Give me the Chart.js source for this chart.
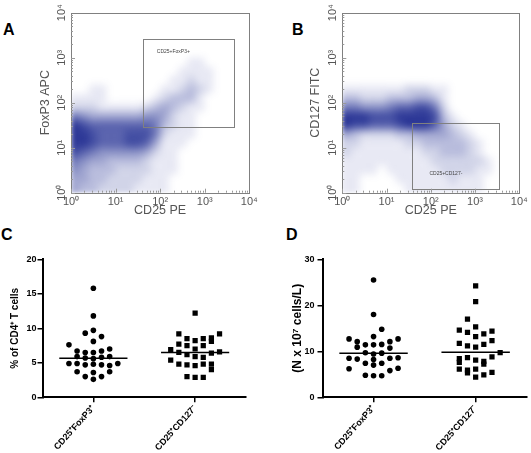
<!DOCTYPE html>
<html>
<head>
<meta charset="utf-8">
<script src="https://cdn.jsdelivr.net/npm/chart.js@4.4.1/dist/chart.umd.min.js"></script>
<style>
  body { margin:0; background:#fff; width:531px; height:453px; position:relative; overflow:hidden; font-family:"Liberation Sans", Arial, sans-serif; }
  canvas { position:absolute; }
  .tag { position:absolute; font-weight:bold; font-size:16px; line-height:1; color:#000; }
</style>
</head>
<body>
<div class="tag" style="left:3px;top:22px;">A</div>
<div class="tag" style="left:292px;top:22px;">B</div>
<div class="tag" style="left:1px;top:227px;">C</div>
<div class="tag" style="left:286px;top:227px;">D</div>
<canvas id="cA" width="265" height="220" style="left:0;top:0;"></canvas>
<canvas id="cB" width="266" height="220" style="left:265px;top:0;"></canvas>
<canvas id="cC" width="265" height="233" style="left:0;top:220px;"></canvas>
<canvas id="cD" width="266" height="233" style="left:265px;top:220px;"></canvas>
<script>
// ============================================================
//  DATA
// ============================================================
// flow plots (A, B): log axes, one labelled tick per decade
var decades = [1, 10, 100, 1000, 10000];
var supDigits = ['\u2070', '\u00B9', '\u00B2', '\u00B3', '\u2074'];

// event density read per 0.2-decade cell (0 = empty .. 9 = darkest)
// first row = top (10^3.8-10^4), first column = left (10^0-10^0.2)
var densityA = [
  '00000000000000000000',
  '00000000000000000000',
  '00000000000000000000',
  '00000000000000000000',
  '00000000000000000000',
  '00000000000001100000',
  '00000000000011110000',
  '00000000000112110000',
  '00110000001123210000',
  '11110000012333100000',
  '22211111234321100000',
  '65444444554211000000',
  '98777777763211000000',
  '99877788862111000000',
  '99877788741110000000',
  '87655555421100000000',
  '65443333211100000000',
  '54333222211100000000',
  '44332222111000000000',
  '43322221111000000000'
];
var densityB = [
  '00000000000000000000',
  '00000000000000000000',
  '00000000000000000000',
  '00000000000000000000',
  '00000000000000000000',
  '00000000000000000000',
  '00000000000000000000',
  '00000000000000000000',
  '11111112221100000000',
  '33222333443100000000',
  '66555677886200000000',
  '99988899998310000000',
  '98877789997421000000',
  '43222233444432100000',
  '22111112233333210000',
  '21111111122333210000',
  '11111111112222221000',
  '11110111111222211000',
  '11000011111121110000',
  '11000001111111110000'
];
var gateAX = [42, 4600], gateAY = [29.5, 2650];
var gateBX = [38, 3500], gateBY = [1.2, 35];
var gateALabel = 'CD25+FoxP3+', gateBLabel = 'CD25+CD127-';
var gateALabelAt = [84, 1350], gateBLabelAt = [93, 2.6];

// dot plots (C, D)
var groups = ['CD25\u207AFoxP3\u207A', 'CD25\u207ACD127\u207B'];
// % of CD4+ T cells; *Col = side-by-side column of each dot in the swarm
var pctFoxp3 = [15.8, 11.8, 9.7, 9.3, 8.8, 8.1, 7.6, 6.7, 6.5, 6.5, 6.7, 7.0,
  5.9, 5.7, 5.6, 5.8, 5.9, 4.9, 4.9, 4.7, 4.8, 4.7, 4.6, 4.9, 3.7, 3.6, 3.7, 3.0, 3.0, 2.6];
var pctFoxp3Col = [0, 0, 0, -1, 1, 0, -3, -2, -1, 0, 1, 2,
  -2, -1, 0, 1, 2, -3, -2, -1, 0, 1, 2, 3, -2, 0, 2, -1, 1, 0];
var pctCd127 = [12.2, 9.2, 9.2, 8.5, 8.2, 8.5, 8.6, 8.1, 7.7, 7.5, 7.5, 7.0,
  6.9, 6.5, 6.2, 6.4, 6.6, 5.4, 5.9, 5.8, 4.8, 4.7, 4.6, 4.8, 4.8, 4.0, 3.0, 2.9, 2.9];
var pctCd127Col = [0, -2, 3, -1, 0, 1, 2, 2, -2, -1, 1, 0,
  -3, -2, -1, 2, 3, -3, 0, 1, -2, -1, 0, 1, 2, 2, -1, 0, 1];
var pctMedian = [5.65, 6.5];
var pctTicks = [0, 5, 10, 15, 20];
// N x 10^7 cells/L
var cntFoxp3 = [25.5, 18.0, 14.8, 13.2, 12.7, 12.7, 12.1, 12.1, 11.4, 11.4, 11.5, 10.9, 10.7,
  9.7, 9.4, 9.6, 8.5, 8.3, 8.2, 8.5, 8.6, 7.4, 7.0, 7.4, 6.2, 6.3, 5.8, 4.8, 4.7, 4.7];
var cntFoxp3Col = [0, 0, 1, 0, -3, 3, -2, 2, -1, 0, 1, -2, 2,
  -1, 0, 1, -3, -2, 0, 2, 3, -1, 0, 1, -3, 3, 2, -1, 0, 1];
var cntCd127 = [24.2, 20.8, 17.0, 15.3, 14.6, 14.4, 14.1, 13.8, 13.2, 12.3, 11.7, 11.2, 11.5, 10.9,
  9.7, 8.8, 8.6, 8.4, 8.1, 7.6, 7.8, 7.2, 6.1, 6.1, 5.9, 5.3, 5.4, 4.9, 4.4];
var cntCd127Col = [0, 0, -1, 0, -2, 2, -1, 1, 0, 2, -2, -1, 1, 0,
  3, 2, -1, -2, 0, -2, 1, 1, -2, 0, -1, -1, 2, 1, 0];
var cntMedian = [9.6, 9.8];
var cntTicks = [0, 10, 20, 30];

// ============================================================
//  STYLE
// ============================================================
var FONT = '"Liberation Sans", Arial, sans-serif';
var SLOT = 0.08;       // horizontal step between side-by-side dots
var HALF_LINE = 0.335; // half length of the median bar
Chart.defaults.font.family = FONT;

// density cloud, gate rectangle, frame with small inner log ticks
var flowPlugin = {
  id: 'flow',
  beforeDatasetsDraw: function(chart, args, o) {
    var ctx = chart.ctx, ca = chart.chartArea, x = chart.scales.x, y = chart.scales.y;
    var rows = o.density.length, cols = o.density[0].length;
    var off = document.createElement('canvas');
    off.width = cols; off.height = rows;
    var octx = off.getContext('2d');
    var img = octx.createImageData(cols, rows);
    o.density.forEach(function(row, i) {
      for (var j = 0; j < cols; j++) {
        var k = (i * cols + j) * 4;
        img.data[k] = 38; img.data[k + 1] = 50; img.data[k + 2] = 148;
        img.data[k + 3] = Math.round(+row[j] / 9 * 245);
      }
    });
    octx.putImageData(img, 0, 0);
    var x0 = x.getPixelForValue(decades[0]), x1 = x.getPixelForValue(decades[decades.length - 1]);
    var y0 = y.getPixelForValue(decades[decades.length - 1]), y1 = y.getPixelForValue(decades[0]);
    ctx.save();
    ctx.beginPath(); ctx.rect(ca.left, ca.top, ca.width, ca.height); ctx.clip();
    ctx.imageSmoothingEnabled = true; ctx.imageSmoothingQuality = 'high';
    ctx.filter = 'blur(2.5px)';
    ctx.drawImage(off, x0, y0, x1 - x0, y1 - y0);
    ctx.restore();
  },
  afterDatasetsDraw: function(chart, args, o) {
    var ctx = chart.ctx, ca = chart.chartArea, x = chart.scales.x, y = chart.scales.y;
    ctx.save();
    ctx.strokeStyle = '#808080'; ctx.lineWidth = 1;
    var gx0 = x.getPixelForValue(o.gateX[0]), gx1 = x.getPixelForValue(o.gateX[1]);
    var gy0 = y.getPixelForValue(o.gateY[1]), gy1 = y.getPixelForValue(o.gateY[0]);
    ctx.strokeRect(Math.round(gx0) + 0.5, Math.round(gy0) + 0.5, Math.round(gx1 - gx0), Math.round(gy1 - gy0));
    ctx.strokeRect(Math.round(ca.left) + 0.5, Math.round(ca.top) + 0.5, Math.round(ca.width), Math.round(ca.height));
    // minor log ticks on the inside of the left and bottom edges
    ctx.strokeStyle = '#999';
    ctx.beginPath();
    for (var d = 0; d < decades.length - 1; d++) {
      for (var m = 1; m < 10; m++) {
        var v = decades[d] * m;
        var px = Math.round(x.getPixelForValue(v)) + 0.5, py = Math.round(y.getPixelForValue(v)) + 0.5;
        var len = m === 1 ? 4 : 2;
        ctx.moveTo(px, ca.bottom); ctx.lineTo(px, ca.bottom - len);
        ctx.moveTo(ca.left, py); ctx.lineTo(ca.left + len, py);
      }
    }
    ctx.stroke();
    ctx.fillStyle = '#444'; ctx.font = '5px ' + FONT; ctx.textBaseline = 'middle';
    ctx.fillText(o.label, x.getPixelForValue(o.labelAt[0]), y.getPixelForValue(o.labelAt[1]));
    ctx.restore();
  }
};

function decadeTicks(s) { s.ticks = decades.map(function(v) { return { value: v }; }); }
function decadeLabel(v) { return '10' + supDigits[Math.round(Math.log10(v))]; }

function flowChart(id, c) {
  var tickFont = { family: FONT, size: 11 };
  var titleFont = { family: FONT, size: 12.5 };
  return new Chart(document.getElementById(id), {
    type: 'scatter',
    data: { datasets: [] },
    plugins: [flowPlugin],
    options: {
      responsive: false, animation: false, devicePixelRatio: 1,
      layout: { padding: c.pad },
      plugins: { legend: { display: false }, tooltip: { enabled: false },
        flow: { density: c.density, gateX: c.gateX, gateY: c.gateY, label: c.label, labelAt: c.labelAt } },
      scales: {
        x: { type: 'logarithmic', min: 1, max: 10000, afterBuildTicks: decadeTicks,
          afterFit: function(s) { s.height = c.xh; },
          grid: { display: false, drawTicks: false }, border: { display: false },
          ticks: { callback: decadeLabel, color: '#555', font: tickFont, padding: 3, maxRotation: 0, autoSkip: false },
          title: { display: true, text: 'CD25 PE', color: '#555', font: titleFont, padding: 0 } },
        y: { type: 'logarithmic', min: 1, max: 10000, afterBuildTicks: decadeTicks,
          afterFit: function(s) { s.width = c.yw; },
          grid: { display: false, drawTicks: false }, border: { display: false },
          ticks: { callback: decadeLabel, color: '#555', font: tickFont, padding: 1, crossAlign: 'center',
            minRotation: 90, maxRotation: 90, autoSkip: false },
          title: { display: true, text: c.yTitle, color: '#555', font: titleFont, padding: 0 } }
      }
    }
  });
}

function dotChart(id, c) {
  var datasets = [];
  c.sets.forEach(function(g, gi) {
    datasets.push({
      data: g.vals.map(function(v, k) { return { x: gi + 1 + g.col[k] * SLOT, y: v }; }),
      pointStyle: g.style, pointRadius: g.style === 'rect' ? 3.7 : 2.8,
      backgroundColor: '#000', borderWidth: 0
    });
    datasets.push({
      data: [{ x: gi + 1 - HALF_LINE, y: c.median[gi] }, { x: gi + 1 + HALF_LINE, y: c.median[gi] }],
      showLine: true, borderColor: '#000', borderWidth: 1.5, pointRadius: 0
    });
  });
  var axisGrid = { display: true, drawOnChartArea: false, drawTicks: true, tickLength: 5, color: '#000', lineWidth: 1.5 };
  return new Chart(document.getElementById(id), {
    type: 'scatter',
    data: { datasets: datasets },
    options: {
      responsive: false, animation: false, devicePixelRatio: 1,
      layout: { padding: c.pad },
      plugins: { legend: { display: false }, tooltip: { enabled: false } },
      scales: {
        x: { type: 'linear', min: 0.5, max: 2.5,
          afterBuildTicks: function(s) { s.ticks = groups.map(function(g, i) { return { value: i + 1 }; }); },
          afterFit: function(s) { s.height = c.xh; },
          grid: axisGrid, border: { display: true, color: '#000', width: 2 },
          ticks: { callback: function(v) { return groups[v - 1]; }, color: '#000',
            font: { family: FONT, size: 9, weight: 'bold' }, padding: 1, minRotation: 48, maxRotation: 48, autoSkip: false } },
        y: { min: 0, max: c.yMax,
          afterBuildTicks: function(s) { s.ticks = c.ticks.map(function(v) { return { value: v }; }); },
          afterFit: function(s) { s.width = c.yw; },
          grid: axisGrid, border: { display: true, color: '#000', width: 2 },
          ticks: { color: '#000', font: { family: FONT, size: 9, weight: 'bold' }, padding: c.tickPad },
          title: { display: true, text: c.yTitle, color: '#000', font: { family: FONT, size: c.titleSize, weight: 'bold' }, padding: 0 } }
      }
    }
  });
}

flowChart('cA', { density: densityA, gateX: gateAX, gateY: gateAY, label: gateALabel, labelAt: gateALabelAt,
  yTitle: 'FoxP3 APC', pad: { left: 38.5, right: 15.7, top: 12.7, bottom: 1.8 }, yw: 32.5, xh: 25.5 });
flowChart('cB', { density: densityB, gateX: gateBX, gateY: gateBY, label: gateBLabel, labelAt: gateBLabelAt,
  yTitle: 'CD127 FITC', pad: { left: 43.5, right: 11.7, top: 12.7, bottom: 1.8 }, yw: 33.8, xh: 25.5 });

dotChart('cC', { sets: [ { vals: pctFoxp3, col: pctFoxp3Col, style: 'circle' }, { vals: pctCd127, col: pctCd127Col, style: 'rect' } ],
  median: pctMedian, ticks: pctTicks, yMax: 20, yTitle: '% of CD4\u207A T cells', titleSize: 10, tickPad: 1,
  pad: { left: 9.5, right: 19, top: 39.3, bottom: 0 }, yw: 33, xh: 55.7 });
dotChart('cD', { sets: [ { vals: cntFoxp3, col: cntFoxp3Col, style: 'circle' }, { vals: cntCd127, col: cntCd127Col, style: 'rect' } ],
  median: cntMedian, ticks: cntTicks, yMax: 30, yTitle: '(N x 10\u2077 cells/L)', titleSize: 12, tickPad: 3,
  pad: { left: 25.3, right: 4.3, top: 39.3, bottom: 0 }, yw: 32.2, xh: 55.7 });
</script>
</body>
</html>
